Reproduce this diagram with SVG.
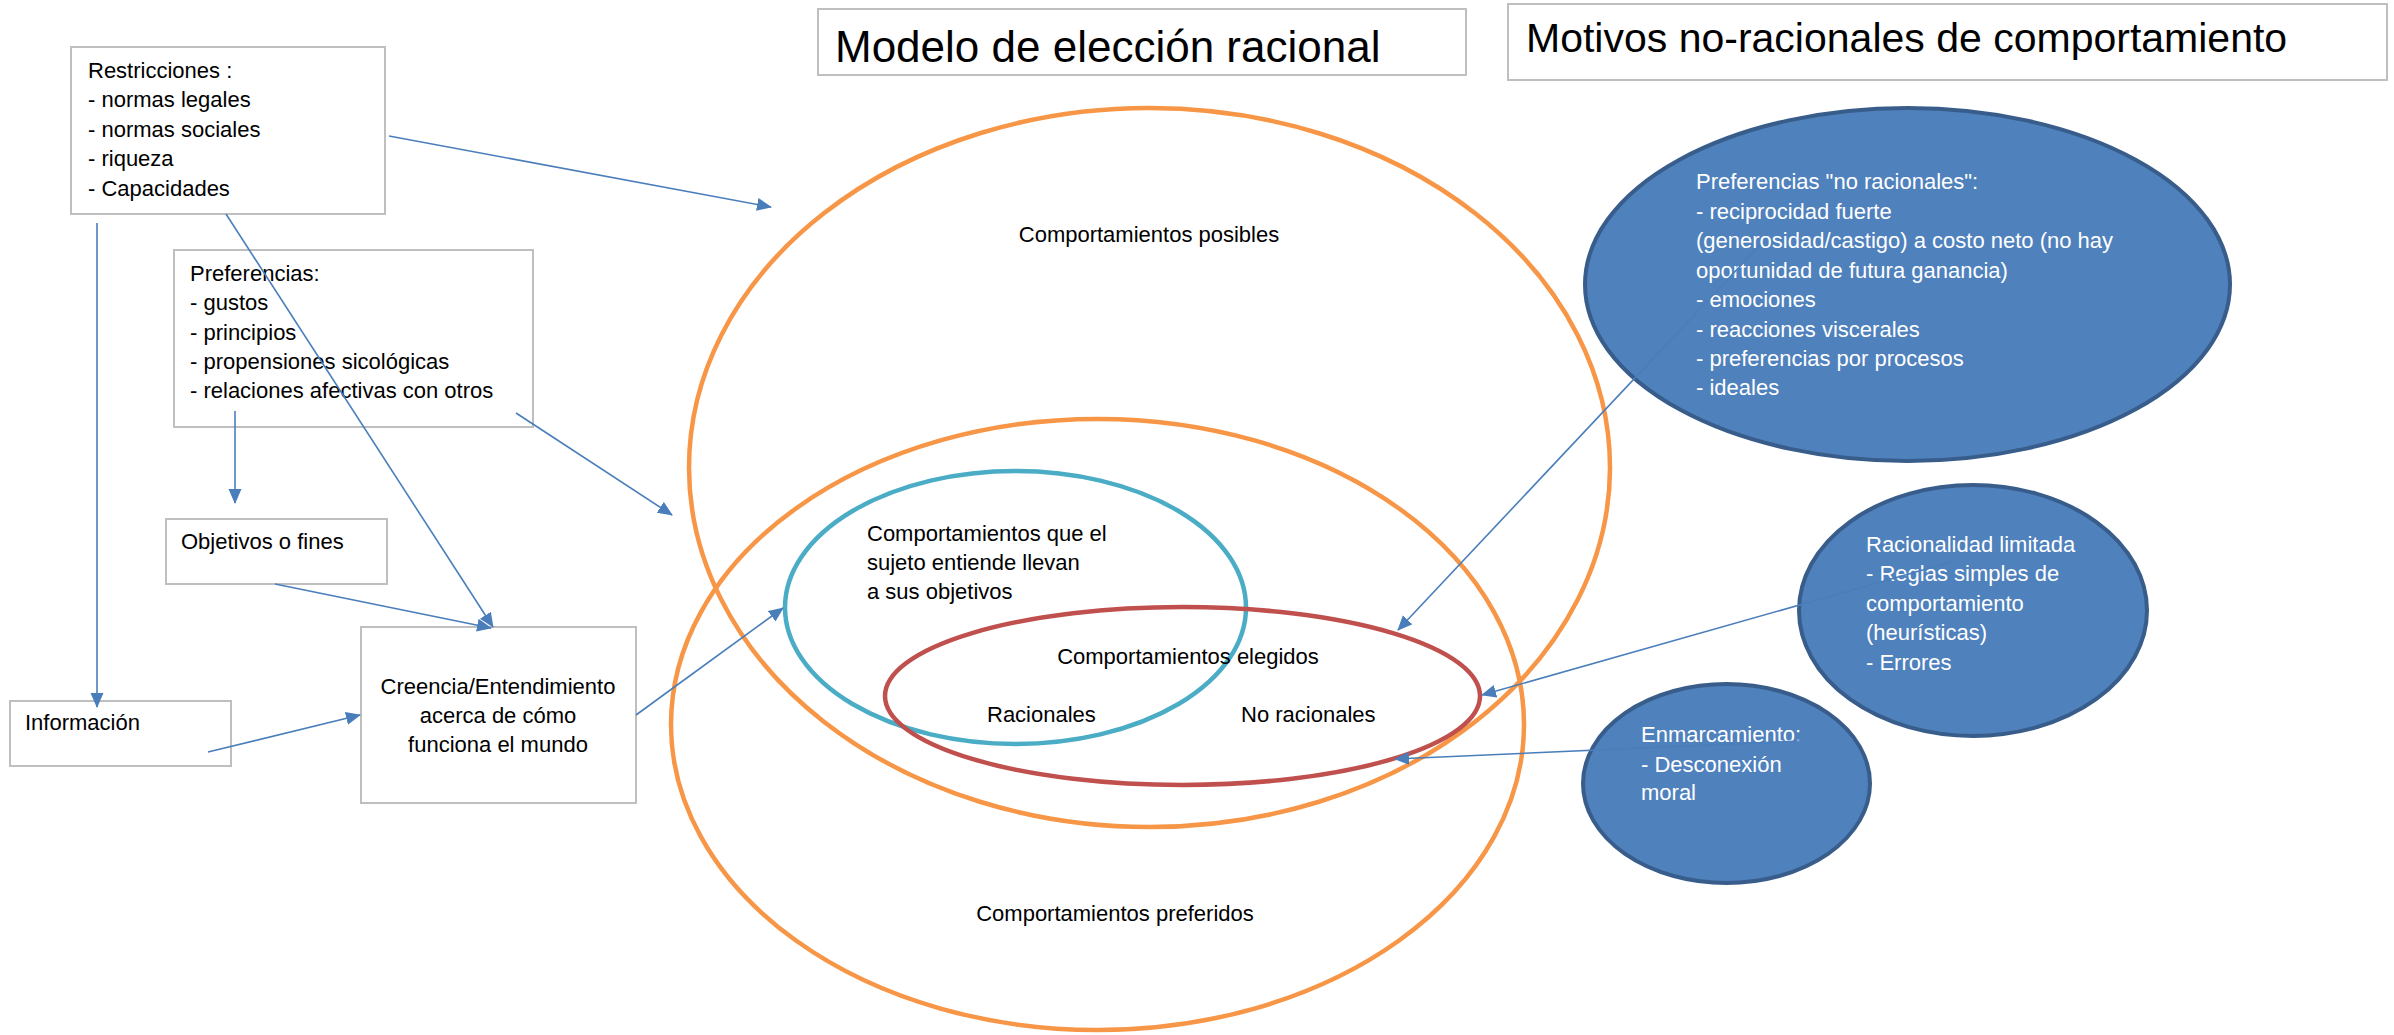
<svg xmlns="http://www.w3.org/2000/svg" width="2394" height="1035" viewBox="0 0 2394 1035">
<style>
.bg{fill:#ffffff}
.box{fill:#ffffff;stroke:#BFBFBF;stroke-width:2}
.t{font-family:"Liberation Sans",Arial,sans-serif;font-size:22px;fill:#000000}
.w{font-family:"Liberation Sans",Arial,sans-serif;font-size:22px;fill:#ffffff}
.c{text-anchor:middle}
.orange{fill:none;stroke:#F79646;stroke-width:4.5}
.cyan{fill:none;stroke:#4BACC6;stroke-width:4.5}
.red{fill:none;stroke:#C0504D;stroke-width:4.5}
.blue{fill:#4F81BD;stroke:#385D8A;stroke-width:4}
.con{fill:none;stroke:#4A7EBB;stroke-width:1.6}
</style>
<defs>
<marker id="arr" markerUnits="userSpaceOnUse" markerWidth="16" markerHeight="14" refX="14" refY="6.5" orient="auto">
<path d="M0,0 L15,6.5 L0,13 z" fill="#4A7EBB"/>
</marker>
</defs>
<rect class="bg" x="0" y="0" width="2394" height="1035"/>

<g id="ellipse-posibles">
<ellipse class="orange" cx="1149.5" cy="467.5" rx="460.5" ry="359.5"/>
<text class="t c" x="1149" y="242">Comportamientos posibles</text>
</g>
<g id="ellipse-preferidos">
<ellipse class="orange" cx="1097.5" cy="724.5" rx="426.5" ry="305.5"/>
<text class="t c" x="1115" y="921">Comportamientos preferidos</text>
</g>
<g id="ellipse-objetivos">
<ellipse class="cyan" cx="1015.5" cy="607.5" rx="230.5" ry="136.5"/>
<text class="t" x="867" y="541">Comportamientos que el</text>
<text class="t" x="867" y="570">sujeto entiende llevan</text>
<text class="t" x="867" y="599">a sus objetivos</text>
</g>
<g id="ellipse-elegidos">
<ellipse class="red" cx="1182.5" cy="696" rx="297.5" ry="89"/>
<text class="t c" x="1188" y="664">Comportamientos elegidos</text>
<text class="t" x="987" y="722">Racionales</text>
<text class="t" x="1241" y="722">No racionales</text>
</g>

<g id="title-modelo">
<rect class="box" x="818" y="9" width="648" height="66"/>
<text class="t" x="835" y="62" style="font-size:44px">Modelo de elección racional</text>
</g>
<g id="title-motivos">
<rect class="box" x="1508" y="4" width="879" height="76"/>
<text class="t" x="1526" y="52" style="font-size:41px">Motivos no-racionales de comportamiento</text>
</g>

<g id="restricciones">
<rect class="box" x="71" y="47" width="314" height="167"/>
<text class="t" x="88" y="77.5">Restricciones :</text>
<text class="t" x="88" y="107">- normas legales</text>
<text class="t" x="88" y="136.5">- normas sociales</text>
<text class="t" x="88" y="166">- riqueza</text>
<text class="t" x="88" y="195.5">- Capacidades</text>
</g>
<g id="preferencias">
<rect class="box" x="174" y="250" width="359" height="177"/>
<text class="t" x="190" y="281">Preferencias:</text>
<text class="t" x="190" y="310">- gustos</text>
<text class="t" x="190" y="339.5">- principios</text>
<text class="t" x="190" y="369">- propensiones sicológicas</text>
<text class="t" x="190" y="398">- relaciones afectivas con otros</text>
</g>
<g id="objetivos">
<rect class="box" x="166" y="519" width="221" height="65"/>
<text class="t" x="181" y="549">Objetivos o fines</text>
</g>
<g id="informacion">
<rect class="box" x="10" y="701" width="221" height="65"/>
<text class="t" x="25" y="730">Información</text>
</g>
<g id="creencia">
<rect class="box" x="361" y="627" width="275" height="176"/>
<text class="t c" x="498" y="694">Creencia/Entendimiento</text>
<text class="t c" x="498" y="723">acerca de cómo</text>
<text class="t c" x="498" y="752">funciona el mundo</text>
</g>

<g id="pref-no-racionales">
<ellipse class="blue" cx="1907.5" cy="284.5" rx="322.5" ry="176.5"/>
<text class="w" x="1696" y="189">Preferencias "no racionales":</text>
<text class="w" x="1696" y="218.5">- reciprocidad fuerte</text>
<text class="w" x="1696" y="248">(generosidad/castigo) a costo neto (no hay</text>
<text class="w" x="1696" y="277.5">oportunidad de futura ganancia)</text>
<text class="w" x="1696" y="307">- emociones</text>
<text class="w" x="1696" y="336.5">- reacciones viscerales</text>
<text class="w" x="1696" y="366">- preferencias por procesos</text>
<text class="w" x="1696" y="395">- ideales</text>
</g>
<g id="racionalidad-limitada">
<ellipse class="blue" cx="1973" cy="610.5" rx="174" ry="125.5"/>
<text class="w" x="1866" y="552">Racionalidad limitada</text>
<text class="w" x="1866" y="581">- Reglas simples de</text>
<text class="w" x="1866" y="611">comportamiento</text>
<text class="w" x="1866" y="640">(heurísticas)</text>
<text class="w" x="1866" y="670">- Errores</text>
</g>
<g id="enmarcamiento">
<ellipse class="blue" cx="1726.5" cy="783.5" rx="143.5" ry="99.5"/>
<text class="w" x="1641" y="742">Enmarcamiento:</text>
<text class="w" x="1641" y="772">- Desconexión</text>
<text class="w" x="1641" y="800">moral</text>
</g>

<g id="connectors">
<line class="con" x1="389" y1="136" x2="771" y2="207" marker-end="url(#arr)"/>
<line class="con" x1="97" y1="223" x2="97" y2="707" marker-end="url(#arr)"/>
<line class="con" x1="226" y1="214" x2="493" y2="627" marker-end="url(#arr)"/>
<line class="con" x1="235" y1="411" x2="235" y2="503" marker-end="url(#arr)"/>
<line class="con" x1="516" y1="413" x2="672" y2="515" marker-end="url(#arr)"/>
<line class="con" x1="275" y1="584" x2="491" y2="628" marker-end="url(#arr)"/>
<line class="con" x1="208" y1="752" x2="360" y2="715" marker-end="url(#arr)"/>
<line class="con" x1="636" y1="715" x2="783" y2="608" marker-end="url(#arr)"/>
<line class="con" x1="1760" y1="245" x2="1398" y2="630" marker-end="url(#arr)"/>
<line class="con" x1="1951" y1="562" x2="1482" y2="695" marker-end="url(#arr)"/>
<line class="con" x1="1800" y1="741" x2="1395" y2="759" marker-end="url(#arr)"/>
</g>
</svg>
